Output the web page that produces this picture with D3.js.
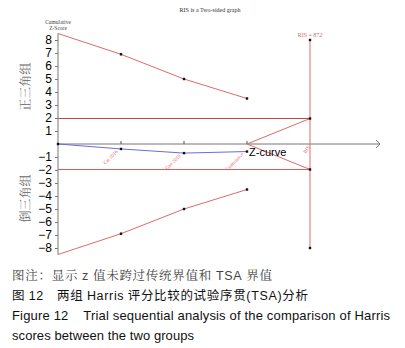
<!DOCTYPE html>
<html>
<head>
<meta charset="utf-8">
<script src="https://cdn.jsdelivr.net/npm/d3@7"></script>
<style>
  body { margin: 0; background: #fff; }
  svg { display: block; }
</style>
</head>
<body>
<div id="chart"></div>
<script>
// cumulative information (patients) at each study, RIS at the end
const cumN = [0, 218, 436, 654];
const ris = 872;
const zCurve = [0, -0.38, -0.7, -0.58];
const upperBound = [8.5, 6.9, 5.0, 3.5];
const lowerBound = [-8.5, -6.9, -5.0, -3.5];
const convBound = 1.96;
const studyLabels = ["Cai 2016", "Gao 2018", "Cumulative"];
const yTicks = [8, 7, 6, 5, 4, 3, 2, 1, -1, -2, -3, -4, -5, -6, -7, -8];

var width = 405, height = 348;
var svg = d3.select("#chart").append("svg")
    .attr("width", width).attr("height", height);

var x = d3.scaleLinear().domain([0, ris]).range([58, 310]);
var y = d3.scaleLinear().domain([0, 8]).range([144, 40]);

var red = "#e06a6a";
var line = d3.line().x(d => x(d[0])).y(d => y(d[1]));

// title
svg.append("text").attr("x", 210).attr("y", 12)
    .attr("text-anchor", "middle")
    .style("font", "6px 'Liberation Serif', serif").style("fill", "#333")
    .text("RIS is a Two-sided graph");

// x axis with open arrow
var xEnd = 380;
svg.append("line").attr("x1", x(0)).attr("x2", xEnd)
    .attr("y1", y(0)).attr("y2", y(0))
    .attr("stroke", "#777").attr("stroke-width", 1);
svg.append("path").attr("d", `M${xEnd - 4},${y(0) - 4}L${xEnd},${y(0)}L${xEnd - 4},${y(0) + 4}`)
    .attr("fill", "none").attr("stroke", "#777");
cumN.slice(1).forEach(n => {
    svg.append("line").attr("x1", x(n)).attr("x2", x(n))
        .attr("y1", y(0) - 3).attr("y2", y(0))
        .attr("stroke", "#555");
});

// y axis
var yAxis = svg.append("g").attr("transform", `translate(${x(0)},0)`)
    .call(d3.axisLeft(y).tickValues(yTicks).tickSize(3).tickSizeOuter(0)
        .tickFormat(d => d < 0 ? "\u2212" + Math.abs(d) : d));
yAxis.select(".domain").remove();
yAxis.append("line").attr("x1", 0).attr("x2", 0)
    .attr("y1", y(8.5)).attr("y2", y(-8.5)).attr("stroke", "#777");
yAxis.selectAll("text")
    .style("font", "12px 'Liberation Sans', Arial, sans-serif").style("fill", "#000");
yAxis.selectAll(".tick line").attr("stroke", "#777");

svg.append("text").attr("x", x(0)).attr("y", 24).attr("text-anchor", "middle")
    .style("font", "5.5px 'Liberation Serif', serif").style("fill", "#444")
    .text("Cumulative");
svg.append("text").attr("x", x(0)).attr("y", 30).attr("text-anchor", "middle")
    .style("font", "5.5px 'Liberation Serif', serif").style("fill", "#444")
    .text("Z-Score");

// group labels on the left
[["正三角组", 4.4], ["倒三角组", -4.2]].forEach(([t, v]) => {
    svg.append("text")
        .attr("transform", `translate(30,${y(v)}) rotate(-90)`)
        .attr("text-anchor", "middle")
        .style("font", "12px 'Noto Serif CJK SC', 'Noto Sans CJK SC', serif")
        .style("fill", "#666")
        .text(t);
});

// conventional boundaries
svg.append("line").attr("x1", x(0)).attr("x2", x(ris))
    .attr("y1", y(convBound)).attr("y2", y(convBound))
    .attr("stroke", "#b94848").attr("stroke-width", 1.2);
svg.append("line").attr("x1", x(0)).attr("x2", x(ris))
    .attr("y1", y(-convBound)).attr("y2", y(-convBound))
    .attr("stroke", "#dd5a5a").attr("stroke-width", 1.2);

// TSA monitoring boundaries
var upper = cumN.map((n, i) => [n, upperBound[i]]);
var lower = cumN.map((n, i) => [n, lowerBound[i]]);
svg.append("path").datum(upper).attr("d", line)
    .attr("fill", "none").attr("stroke", red);
svg.append("path").datum(lower).attr("d", line)
    .attr("fill", "none").attr("stroke", red);

// futility wedge
var last = cumN[cumN.length - 1];
svg.append("path").datum([[ris, convBound], [last, 0], [ris, -convBound]]).attr("d", line)
    .attr("fill", "none").attr("stroke", red);

// RIS line
svg.append("line").attr("x1", x(ris)).attr("x2", x(ris))
    .attr("y1", y(8)).attr("y2", y(-8)).attr("stroke", red);
svg.append("text").attr("x", x(ris)).attr("y", y(8) - 3).attr("text-anchor", "middle")
    .style("font", "6px 'Liberation Serif', serif").style("fill", red)
    .text("RIS = " + ris);
svg.append("text")
    .attr("transform", `translate(${x(ris) - 2},${y(-0.5)}) rotate(-60)`)
    .attr("text-anchor", "middle")
    .style("font", "5px 'Liberation Serif', serif").style("fill", red)
    .text("RIS");

// Z-curve
var zPts = cumN.map((n, i) => [n, zCurve[i]]);
svg.append("path").datum(zPts).attr("d", line)
    .attr("fill", "none").attr("stroke", "#6b6bdc").attr("stroke-width", 1);

// dots
var dots = upper.slice(1).concat(lower.slice(1), zPts,
    [[ris, 8], [ris, -8], [ris, convBound], [ris, -convBound]]);
svg.selectAll(".dot").data(dots).enter().append("rect")
    .attr("x", d => x(d[0]) - 1.2).attr("y", d => y(d[1]) - 1.2)
    .attr("width", 2.4).attr("height", 2.4).attr("fill", "#111");

// study labels
studyLabels.forEach((t, i) => {
    var p = zPts[i + 1];
    svg.append("text")
        .attr("transform", `translate(${x(p[0]) - 3},${y(p[1]) + 3}) rotate(-45)`)
        .attr("text-anchor", "end")
        .style("font", "5px 'Liberation Serif', serif").style("fill", red)
        .text(t);
});

svg.append("text").attr("x", x(last) + 2).attr("y", y(zCurve[3]) + 4)
    .style("font", "11px 'Liberation Sans', Arial, sans-serif").style("fill", "#000")
    .text("Z-curve");

// caption
var serifCJK = "12.5px 'Noto Serif CJK SC', 'Noto Sans CJK SC', serif";
var sans = "12.5px 'Liberation Sans', Arial, sans-serif";
var cap = svg.append("g");
var c1 = cap.append("text").attr("x", 12).attr("y", 280)
    .attr("textLength", 260).attr("lengthAdjust", "spacing")
    .attr("xml:space", "preserve").style("fill", "#444");
[["图注：显示 ", serifCJK], ["z", sans], [" 值未跨过传统界值和 ", serifCJK],
 ["TSA", sans], [" 界值", serifCJK]].forEach(([t, f]) => {
    c1.append("tspan").style("font", f).text(t);
});
var c2 = cap.append("text").attr("x", 12).attr("y", 300)
    .attr("textLength", 296).attr("lengthAdjust", "spacing")
    .attr("xml:space", "preserve").style("fill", "#111");
[["图 ", "12.5px 'Noto Sans CJK SC', sans-serif"], ["12", sans],
 ["　两组 ", "12.5px 'Noto Sans CJK SC', sans-serif"], ["Harris", sans],
 [" 评分比较的试验序贯", "12.5px 'Noto Sans CJK SC', sans-serif"], ["(TSA)", sans],
 ["分析", "12.5px 'Noto Sans CJK SC', sans-serif"]].forEach(([t, f]) => {
    c2.append("tspan").style("font", f).text(t);
});
cap.append("text").attr("x", 12).attr("y", 320)
    .attr("textLength", 378).attr("lengthAdjust", "spacing")
    .style("font", "13px 'Liberation Sans', Arial, sans-serif").style("fill", "#111")
    .attr("xml:space", "preserve")
    .text("Figure 12    Trial sequential analysis of the comparison of Harris");
cap.append("text").attr("x", 12).attr("y", 340)
    .attr("textLength", 182).attr("lengthAdjust", "spacing")
    .style("font", "13px 'Liberation Sans', Arial, sans-serif").style("fill", "#111")
    .text("scores between the two groups");
</script>
</body>
</html>
